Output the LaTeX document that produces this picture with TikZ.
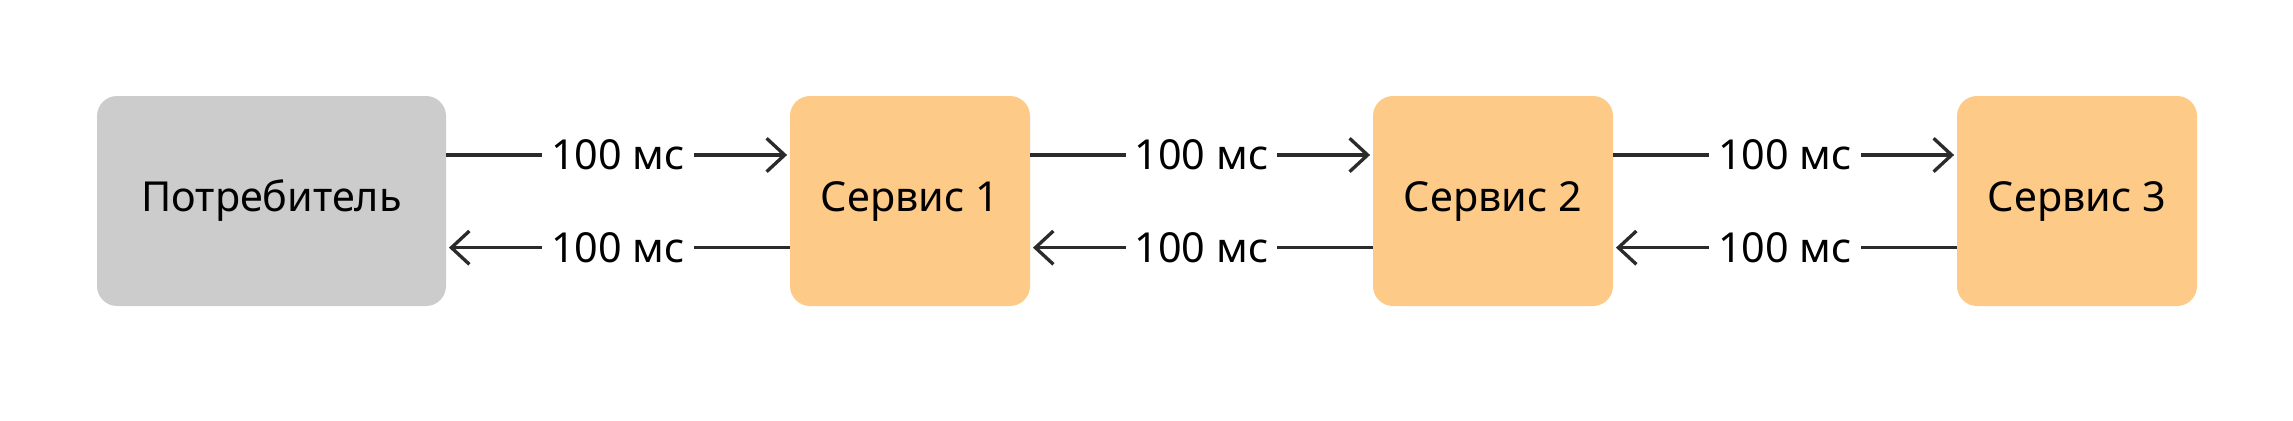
\documentclass[tikz,border=0pt]{standalone}
\usepackage{fontspec}
\setmainfont{Noto Sans}
\usetikzlibrary{arrows.meta}
\definecolor{grayfill}{HTML}{CCCCCC}
\definecolor{orangefill}{HTML}{FDCA88}
\definecolor{linecol}{HTML}{2B2B2B}
\begin{document}
\begin{tikzpicture}[x=0.75pt,y=-0.75pt,
  box/.style={rounded corners=15pt, inner sep=0pt, minimum height=157.5pt,
    font=\fontsize{31}{37}\selectfont, text=black},
  consbox/.style={box, fill=grayfill, minimum width=261.75pt},
  servbox/.style={box, fill=orangefill, minimum width=180pt},
  lbl/.style={fill=white, inner sep=6.5pt, font=\fontsize{31}{37}\selectfont, text=black},
  conn/.style={draw=linecol, line width=2.5pt, shorten >=2pt,
    -{Straight Barb[length=13.5pt, width=25pt]}}]
\useasboundingbox (0,0) rectangle (2293,421);
\node[consbox] (cons) at (271.5,201) {Потребитель};
\node[servbox] (s1) at (910,201) {Сервис 1};
\node[servbox] (s2) at (1493,201) {Сервис 2};
\node[servbox] (s3) at (2077,201) {Сервис 3};
\foreach \a/\b in {cons/s1, s1/s2, s2/s3}{
  \draw[conn] ([yshift=34.5pt]\a.east) -- ([yshift=34.5pt]\b.west)
    node[midway, lbl] {100 мс};
  \draw[conn] ([yshift=-35pt]\b.west) -- ([yshift=-35pt]\a.east)
    node[midway, lbl] {100 мс};
}
\end{tikzpicture}
\end{document}
